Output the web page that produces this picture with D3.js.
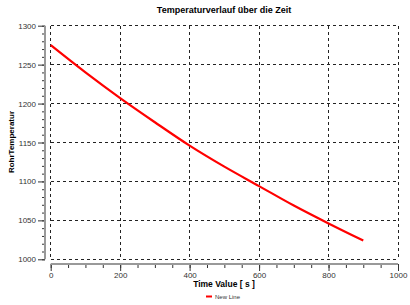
<!DOCTYPE html>
<html><head><meta charset="utf-8">
<script src="https://cdn.jsdelivr.net/npm/d3@7"></script>
<style>body{margin:0;background:#fff}svg{display:block}</style>
</head><body>
<script>
const timeValues = [0, 100, 200, 300, 400, 500, 600, 700, 800, 900];
const temperatures = [1275, 1240, 1207, 1176, 1146, 1119, 1094, 1069, 1046, 1024];
const xTicks = [0, 200, 400, 600, 800, 1000];
const yTicks = [1000, 1050, 1100, 1150, 1200, 1250, 1300];
const titleText = "Temperaturverlauf über die Zeit";
const xLabel = "Time Value [ s ]";
const yLabel = "RohrTemperatur";
const legendLabel = "New Line";

const W = 410, H = 305;
const svg = d3.select("body").append("svg").attr("width", W).attr("height", H);
const x = d3.scaleLinear().domain([0, 1000]).range([50.7, 398]);
const y = d3.scaleLinear().domain([1000, 1300]).range([259.3, 25.7]);
const font = "Liberation Sans, Arial, sans-serif";

// grid
const g = svg.append("g");
g.selectAll(".vg").data(xTicks).join("line")
  .attr("x1", d => x(d)).attr("x2", d => x(d)).attr("y1", y(1300)).attr("y2", y(1000))
  .attr("stroke", "#222").attr("stroke-width", 1).attr("stroke-dasharray", "3,3")
  .attr("shape-rendering", "crispEdges");
g.selectAll(".hg").data(yTicks).join("line")
  .attr("x1", x(0)).attr("x2", x(1000)).attr("y1", d => y(d)).attr("y2", d => y(d))
  .attr("stroke", "#222").attr("stroke-width", 1).attr("stroke-dasharray", "3,3")
  .attr("shape-rendering", "crispEdges");

// y axis
const yAxisG = svg.append("g").attr("transform", "translate(45,0)");
yAxisG.call(d3.axisLeft(y).tickValues(d3.range(1000, 1301, 10)).tickSize(3).tickFormat(""));
yAxisG.call(ax => { ax.select(".domain").remove(); ax.selectAll("line").attr("stroke", "#333"); });
const yMaj = svg.append("g").attr("transform", "translate(45,0)");
yMaj.call(d3.axisLeft(y).tickValues(yTicks).tickSize(7).tickPadding(2).tickFormat(d3.format("d")));
yMaj.select(".domain").remove();
yMaj.selectAll("line").attr("stroke", "#333");
yMaj.selectAll("text").attr("font-family", font).attr("font-size", 8).attr("fill", "#333");
svg.append("line").attr("x1", 45).attr("x2", 45).attr("y1", y(1300)).attr("y2", y(1000))
  .attr("stroke", "#999").attr("stroke-width", 2);

// x axis
const xAxisG = svg.append("g").attr("transform", "translate(0,264)");
xAxisG.call(d3.axisBottom(x).tickValues(d3.range(0, 1001, 50)).tickSize(4).tickFormat(""));
xAxisG.call(ax => { ax.select(".domain").remove(); ax.selectAll("line").attr("stroke", "#333"); });
const xMaj = svg.append("g").attr("transform", "translate(0,264)");
xMaj.call(d3.axisBottom(x).tickValues(xTicks).tickSize(7).tickPadding(1).tickFormat(d3.format("d")));
xMaj.select(".domain").remove();
xMaj.selectAll("line").attr("stroke", "#333");
xMaj.selectAll("text").attr("font-family", font).attr("font-size", 8).attr("fill", "#333");
svg.append("line").attr("x1", x(0)).attr("x2", x(1000)).attr("y1", 264).attr("y2", 264)
  .attr("stroke", "#999").attr("stroke-width", 2);

// line
const line = d3.line().x((d, i) => x(timeValues[i])).y(d => y(d)).curve(d3.curveMonotoneX);
svg.append("path").datum(temperatures).attr("d", line)
  .attr("fill", "none").attr("stroke", "#f00").attr("stroke-width", 2.2);

// texts
svg.append("text").attr("x", 224).attr("y", 13).attr("text-anchor", "middle")
  .attr("font-family", font).attr("font-weight", "bold").attr("font-size", 9).text(titleText);
svg.append("text").attr("x", 224).attr("y", 287).attr("text-anchor", "middle")
  .attr("font-family", font).attr("font-weight", "bold").attr("font-size", 8.5).text(xLabel);
svg.append("text").attr("transform", "translate(14,142) rotate(-90)").attr("text-anchor", "middle")
  .attr("font-family", font).attr("font-weight", "bold").attr("font-size", 8).text(yLabel);

// legend
svg.append("line").attr("x1", 206).attr("x2", 212).attr("y1", 296.5).attr("y2", 296.5)
  .attr("stroke", "#f00").attr("stroke-width", 2);
svg.append("text").attr("x", 215).attr("y", 299).attr("font-family", font)
  .attr("font-size", 6).attr("fill", "#333").text(legendLabel);
</script>
</body></html>
